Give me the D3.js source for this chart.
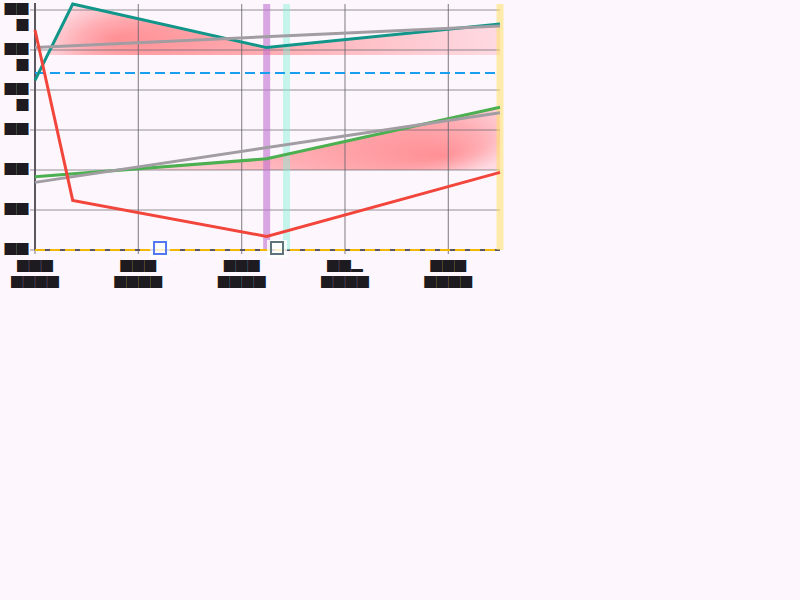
<!DOCTYPE html>
<html><head><meta charset="utf-8">
<script src="https://cdn.jsdelivr.net/npm/d3@7"></script>
<style>
html,body{margin:0;padding:0;background:#fdf7fd;}
svg{display:block;}
text{font-family:"Noto Sans CJK SC","Noto Sans CJK JP",sans-serif;font-size:12px;fill:#1d1b20;}
</style></head><body>
<svg id="chart" width="800" height="600"></svg>
<script>
// ---- data ----
const xTicks = [0, 1, 2, 3, 4];
const xTickLabels = [["███","████"],["███","████"],["███","████"],["██▂","████"],["███","████"]];
const yTicks = [0, 10, 20, 30, 40, 50, 60];
const yTickLabels = [["██"],["██"],["██"],["██"],["██","█"],["██","█"],["██","█"]];
const tealX = [0, 0.365, 2.242, 4.5];
const tealY = [42.4, 61.5, 50.6, 56.5];
const redX = [0, 0.365, 2.242, 4.5];
const redY = [55, 12.4, 3.4, 19.4];
const greenX = [0, 2.242, 4.5];
const greenY = [18.3, 22.8, 35.7];
const upperThreshold = 48.75;
const lowerThreshold = 20;
const dashedRefValue = 44.25;
const zeroRefValue = 0;
const bandX = [2.242, 2.434, 4.5];
const markerX = [1.21, 2.342];
const markerValue = 0.5;

// ---- scales ----
const svg = d3.select("#chart");
const x = d3.scaleLinear().domain([0, 4.5]).range([35, 500]);
const yMax = d3.max([...tealY, ...redY, ...greenY]);
const y = d3.scaleLinear().domain([0, yMax]).range([250, 4]);
const [x0, x1] = x.range();
const [yb, yt] = y.range();

svg.append("rect").attr("width", 800).attr("height", 600).attr("fill", "#fdf7fd");

const defs = svg.append("defs");
function radial(id, cx, fx, fy, sy) {
  const g = defs.append("radialGradient").attr("id", id)
    .attr("cx", cx).attr("cy", 0.5).attr("r", 0.5).attr("fx", fx).attr("fy", fy)
    .attr("gradientTransform", `translate(${fx},${fy}) scale(1,${sy}) translate(${-fx},${-fy})`);
  g.append("stop").attr("offset", 0).attr("stop-color", "#ff8489").attr("stop-opacity", 0.9);
  g.append("stop").attr("offset", 0.45).attr("stop-color", "#ff9aa0").attr("stop-opacity", 0.78);
  g.append("stop").attr("offset", 1).attr("stop-color", "#ffbcc6").attr("stop-opacity", 0.5);
}
radial("gradUpper", 0.5, 0.17, 0.45, 1.8);
radial("gradLower", 0.56, 0.88, 0.7, 2);
defs.append("clipPath").attr("id", "clipUpper").append("rect")
  .attr("x", 0).attr("y", 0).attr("width", 800).attr("height", y(upperThreshold));
defs.append("clipPath").attr("id", "clipLower").append("rect")
  .attr("x", 0).attr("y", 0).attr("width", 800).attr("height", y(lowerThreshold));

const pts = (xs, ys) => xs.map((v, i) => ({x: v, y: ys[i]}));
const teal = pts(tealX, tealY), red = pts(redX, redY), green = pts(greenX, greenY);

// ---- areas ----
const areaGen = th => d3.area().x(d => x(d.x)).y0(y(th)).y1(d => y(d.y));
svg.append("path").attr("d", areaGen(upperThreshold)(teal))
  .attr("fill", "url(#gradUpper)").attr("clip-path", "url(#clipUpper)");
svg.append("path").attr("d", areaGen(lowerThreshold)(green))
  .attr("fill", "url(#gradLower)").attr("clip-path", "url(#clipLower)");

// ---- grid ----
const grid = svg.append("g").attr("stroke", "#6a656d").attr("stroke-opacity", 0.72).attr("stroke-width", 1.2);
grid.selectAll(".h").data(yTicks).join("line")
  .attr("x1", x0 - 5).attr("x2", x1).attr("y1", d => y(d)).attr("y2", d => y(d));
grid.selectAll(".v").data(xTicks).join("line")
  .attr("x1", d => x(d)).attr("x2", d => x(d)).attr("y1", yt).attr("y2", yb + 4);

// ---- axes lines ----
svg.append("line").attr("x1", x0).attr("x2", x0).attr("y1", yt - 1).attr("y2", yb)
  .attr("stroke", "#5b5760").attr("stroke-width", 2);
svg.append("line").attr("x1", x0).attr("x2", x1).attr("y1", yb).attr("y2", yb)
  .attr("stroke", "#5b5760").attr("stroke-width", 2);

// ---- bands ----
const bandColors = [["#c070d0", 0.6], ["#80f0d8", 0.45], ["#ffe066", 0.55]];
svg.selectAll(".band").data(bandX).join("line")
  .attr("x1", d => x(d)).attr("x2", d => x(d)).attr("y1", yt).attr("y2", yb)
  .attr("stroke", (d, i) => bandColors[i][0]).attr("stroke-opacity", (d, i) => bandColors[i][1])
  .attr("stroke-width", 7);

// ---- reference lines ----
svg.append("line").attr("x1", x0).attr("x2", x1).attr("y1", y(dashedRefValue)).attr("y2", y(dashedRefValue))
  .attr("stroke", "#1a9ff0").attr("stroke-width", 2).attr("stroke-dasharray", "10,5");
svg.append("line").attr("x1", x0).attr("x2", x1).attr("y1", y(zeroRefValue)).attr("y2", y(zeroRefValue))
  .attr("stroke", "#f5b800").attr("stroke-width", 2).attr("stroke-dasharray", "10,5");

// ---- lines ----
const lineGen = d3.line().x(d => x(d.x)).y(d => y(d.y));
svg.append("path").attr("d", lineGen(green)).attr("fill", "none").attr("stroke", "#4caf50").attr("stroke-width", 3);
svg.append("path").attr("d", lineGen(teal)).attr("fill", "none").attr("stroke", "#12968a").attr("stroke-width", 3);

function linreg(xs, ys) {
  const mx = d3.mean(xs), my = d3.mean(ys);
  let sxy = 0, sxx = 0;
  xs.forEach((v, i) => { sxy += (v - mx) * (ys[i] - my); sxx += (v - mx) ** 2; });
  const b = sxy / sxx, a = my - b * mx;
  const [d0, d1] = x.domain();
  return [{x: d0, y: a + b * d0}, {x: d1, y: a + b * d1}];
}
[linreg(tealX, tealY), linreg(greenX, greenY)].forEach(t => {
  svg.append("path").attr("d", lineGen(t)).attr("fill", "none")
    .attr("stroke", "#a19da2").attr("stroke-width", 3);
});
svg.append("path").attr("d", lineGen(red)).attr("fill", "none").attr("stroke", "#f2453b").attr("stroke-width", 3);

// ---- markers ----
const markerColors = ["#5578f2", "#5f737a"];
markerX.forEach((mx, i) => {
  const cx = x(mx), cy = y(markerValue);
  svg.append("rect").attr("x", cx - 10).attr("y", cy - 8).attr("width", 20).attr("height", 18)
    .attr("fill", "#ffffff").attr("opacity", 0.8);
  svg.append("rect").attr("x", cx - 6).attr("y", cy - 6).attr("width", 12).attr("height", 12)
    .attr("fill", "none").attr("stroke", markerColors[i]).attr("stroke-width", 2);
});

// ---- tick labels ----
const yl = svg.append("g").attr("text-anchor", "end");
yTicks.forEach((t, i) => {
  const txt = yl.append("text").attr("x", x0 - 6.5).attr("y", y(t) + 3.5);
  yTickLabels[i].forEach((s, j) => txt.append("tspan").attr("x", x0 - 6.5).attr("y", y(t) + 3.5 + j * 16).text(s));
});
const xl = svg.append("g").attr("text-anchor", "middle");
xTicks.forEach((t, i) => {
  const txt = xl.append("text").attr("x", x(t)).attr("y", yb + 21.3);
  xTickLabels[i].forEach((s, j) => txt.append("tspan").attr("x", x(t)).attr("y", yb + 21.3 + j * 16).text(s));
});
</script>
</body></html>
